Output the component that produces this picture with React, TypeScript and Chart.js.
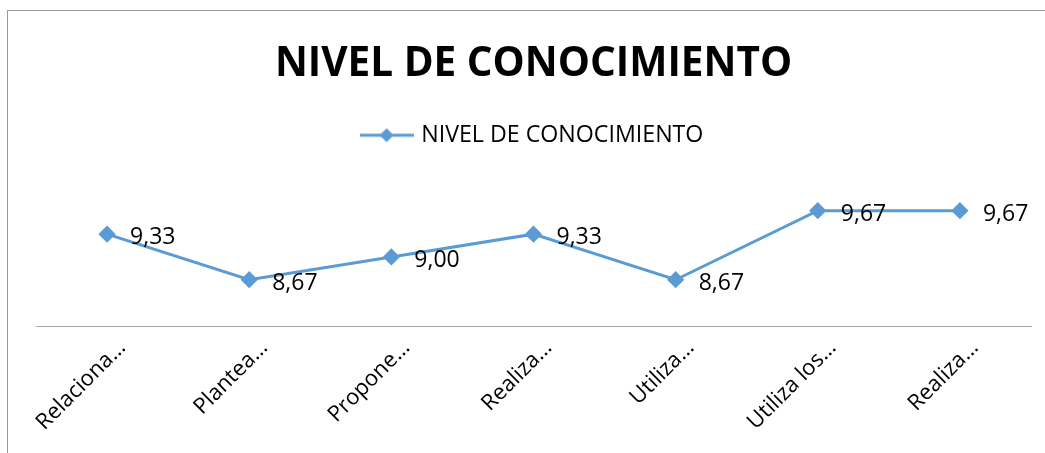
import React, { useEffect, useRef } from "react";
import { Chart, registerables } from "chart.js";

Chart.register(...registerables);

const chartTitle = "NIVEL DE CONOCIMIENTO";
const seriesName = "NIVEL DE CONOCIMIENTO";
const categories = ["Relaciona…", "Plantea…", "Propone…", "Realiza…", "Utiliza…", "Utiliza los…", "Realiza…"];
const values = [9.33, 8.67, 9.0, 9.33, 8.67, 9.67, 9.67];
const yMin = 8;
const yMax = 10.45;

const BLUE = "#5b9bd5";
const FONT = '"Open Sans", "DejaVu Sans", sans-serif';

const fmt = (v: number) => v.toFixed(2).replace(".", ",");

function makeLegendIcon(): HTMLCanvasElement {
  const c = document.createElement("canvas");
  c.width = 54;
  c.height = 16;
  const g = c.getContext("2d")!;
  g.strokeStyle = BLUE;
  g.lineWidth = 3;
  g.beginPath();
  g.moveTo(0, 8);
  g.lineTo(54, 8);
  g.stroke();
  g.fillStyle = BLUE;
  g.beginPath();
  g.moveTo(27, 1);
  g.lineTo(34, 8);
  g.lineTo(27, 15);
  g.lineTo(20, 8);
  g.closePath();
  g.fill();
  return c;
}

const valueLabelPlugin = {
  id: "valueLabels",
  afterDatasetsDraw(chart: any) {
    const ctx = chart.ctx;
    const meta = chart.getDatasetMeta(0);
    ctx.save();
    ctx.font = `23px ${FONT}`;
    ctx.fillStyle = "#000";
    ctx.textAlign = "left";
    ctx.textBaseline = "alphabetic";
    meta.data.forEach((pt: any, i: number) => {
      ctx.fillText(fmt(values[i]), pt.x + 23, pt.y + 10);
    });
    ctx.restore();
  },
};

export default function App() {
  const ref = useRef<HTMLCanvasElement | null>(null);

  useEffect(() => {
    if (!ref.current) return;
    const icon = makeLegendIcon();
    const chart = new Chart(ref.current, {
      type: "line",
      data: {
        labels: categories,
        datasets: [
          {
            label: seriesName,
            data: values,
            borderColor: BLUE,
            backgroundColor: BLUE,
            borderWidth: 3,
            pointStyle: "rectRot",
            pointRadius: 6.5,
            pointBackgroundColor: BLUE,
            pointBorderColor: BLUE,
            tension: 0,
          },
        ],
      },
      options: {
        animation: false,
        responsive: false,
        maintainAspectRatio: false,
        layout: { padding: { top: 0, left: 36, right: 14, bottom: 0 } },
        plugins: {
          title: {
            display: true,
            text: chartTitle,
            color: "#000",
            font: { family: FONT, size: 40.5, weight: "bold" },
            padding: { top: 40, bottom: 25 },
          },
          legend: {
            display: true,
            position: "top",
            labels: {
              usePointStyle: true,
              pointStyle: icon as any,
              pointStyleWidth: 46,
              color: "#000",
              font: { family: FONT, size: 23.2 },
              padding: 10,
            },
          },
          tooltip: { enabled: false },
        },
        scales: {
          x: {
            offset: true,
            grid: { display: false, drawTicks: false },
            border: { display: true, color: "#a6a6a6", width: 1 },
            ticks: {
              color: "#000",
              font: { family: FONT, size: 22 },
              maxRotation: 45,
              minRotation: 45,
              autoSkip: false,
              padding: 9,
              labelOffset: 15,
            },
            afterFit: (s: any) => {
              s.height = 127;
            },
          },
          y: {
            display: false,
            min: yMin,
            max: yMax,
          },
        },
      },
      plugins: [valueLabelPlugin],
    });
    return () => chart.destroy();
  }, []);

  return (
    <div style={{ position: "fixed", left: 0, top: 0, width: 1045, height: 453, background: "#fff", overflow: "hidden" }}>
      <div
        style={{
          position: "absolute",
          left: 7,
          top: 10,
          width: 1100,
          height: 500,
          borderLeft: "1px solid #9a9a9a",
          borderTop: "1px solid #9a9a9a",
        }}
      />
      <canvas ref={ref} width={1045} height={453} style={{ position: "absolute", left: 0, top: 0 }} />
    </div>
  );
}
